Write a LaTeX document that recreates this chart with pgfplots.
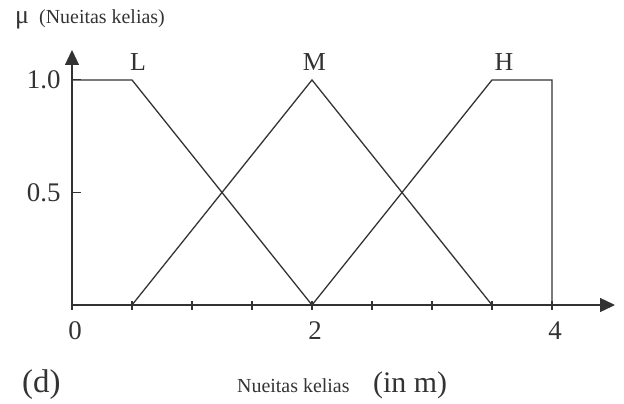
\documentclass[border=0pt]{standalone}
\usepackage{fontspec}
\setmainfont{Liberation Serif}
\usepackage{pgfplots}
\pgfplotsset{compat=1.18}
\usetikzlibrary{arrows.meta}

\definecolor{ink}{gray}{0.2}

\begin{document}
\begin{tikzpicture}[x=1bp,y=1bp]
\useasboundingbox (0,0) rectangle (624,403);
\begin{axis}[
  at={(72bp,98bp)}, anchor=south west,
  scale only axis, width=543bp, height=255bp,
  xmin=0, xmax=4.525, ymin=0, ymax=1.133,
  axis lines=left,
  axis line style={line width=1.3bp, draw=ink, -{Triangle[length=15bp,width=14bp]}},
  xtick={0,0.5,...,4}, xticklabels={0,,,,2,,,,4},
  ytick={0.5,1}, yticklabels={0.5,1.0},
  xtick align=center, ytick align=inside,
  major tick length=9bp,
  tick style={line width=1.1bp, draw=ink},
  ticklabel style={font=\fontsize{27}{27}\selectfont, text=ink},
  /pgf/number format/assume math mode=true,
  xticklabel style={yshift=-9bp, xshift=3bp},
  yticklabel style={xshift=-8bp},
  clip=false,
]
% low, medium and high membership functions
\addplot[line width=1.3bp, draw=ink, mark=none] coordinates {(0,1) (0.5,1) (2,0)};
\addplot[line width=1.3bp, draw=ink, mark=none] coordinates {(0.5,0) (2,1) (3.5,0)};
\addplot[line width=1.3bp, draw=ink, mark=none] coordinates {(2,0) (3.5,1) (4,1) (4,0)};
\node[font=\fontsize{26}{26}\selectfont, text=ink] at (axis cs:0.55,1.08) {L};
\node[font=\fontsize{26}{26}\selectfont, text=ink] at (axis cs:2.02,1.08) {M};
\node[font=\fontsize{26}{26}\selectfont, text=ink] at (axis cs:3.6,1.08) {H};
\end{axis}
% titles
\node[anchor=base west, inner sep=0, font=\fontsize{26}{26}\selectfont, text=ink] at (15,380) {μ};
\node[anchor=base west, inner sep=0, font=\fontsize{20}{20}\selectfont, text=ink] at (39,380) {(Nueitas kelias)};
\node[anchor=base west, inner sep=0, font=\fontsize{33}{33}\selectfont, text=ink] at (22,11) {(d)};
\node[anchor=base west, inner sep=0, font=\fontsize{20}{20}\selectfont, text=ink] at (237,11) {Nueitas kelias};
\node[anchor=base west, inner sep=0, font=\fontsize{30}{30}\selectfont, text=ink] at (373,11) {(in m)};
\end{tikzpicture}
\end{document}
